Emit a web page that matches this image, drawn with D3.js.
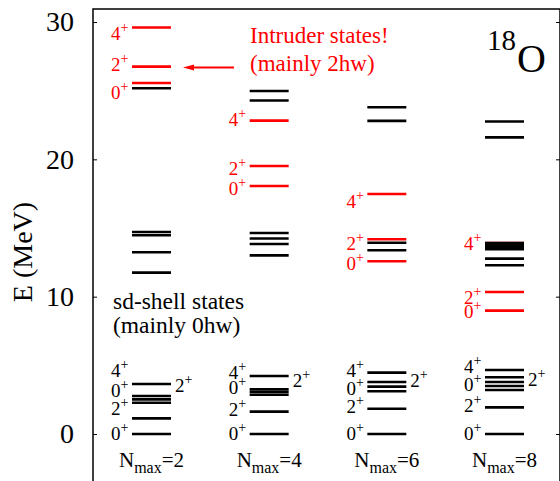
<!DOCTYPE html>
<html>
<head>
<meta charset="utf-8">
<script src="https://cdn.jsdelivr.net/npm/d3@7"></script>
<style>
  html, body { margin: 0; padding: 0; background: #fff; }
  svg { display: block; font-family: "Liberation Serif", "Times New Roman", Times, "DejaVu Serif", serif; }
  svg text { font-family: "Liberation Serif", "Times New Roman", Times, "DejaVu Serif", serif; }
</style>
</head>
<body>
<svg id="chart" width="560" height="481"></svg>
<script>
// ---------- data ----------
const nmaxValues = [2, 4, 6, 8];
const yTicks = [0, 10, 20, 30];

// black = sd-shell (mainly 0hw) states, red = intruder (mainly 2hw) states, energies in MeV
const blackLevels = [
  [0, 1.14, 2.28, 2.52, 2.77, 3.64, 11.75, 13.23, 14.47, 14.71, 25.18],
  [0, 1.63, 2.86, 3.06, 3.25, 4.22, 13.01, 13.84, 14.23, 14.64, 24.28, 24.98],
  [0, 1.84, 3.11, 3.45, 3.79, 4.47, 13.38, 13.93, 22.8, 23.79],
  [0, 1.94, 3.2, 3.5, 3.79, 4.13, 4.66, 12.29, 12.77, 13.45, 13.6, 13.75, 13.9, 21.6, 22.75]
];
const redLevels = [
  [25.56, 26.75, 29.6],
  [18.06, 19.52, 22.82],
  [12.58, 14.18, 17.48],
  [8.98, 10.34, 13.9]
];

// spin labels: [Nmax, J, energy of label centre, series, side]
const spinLabels = [
  [2, "4", 29.13, "red", "left"], [2, "2", 26.88, "red", "left"], [2, "0", 24.87, "red", "left"],
  [2, "4", 4.62, "black", "left"], [2, "0", 3.2, "black", "left"], [2, "2", 1.86, "black", "left"],
  [2, "0", 0.04, "black", "left"], [2, "2", 3.5, "black", "right"],
  [4, "4", 22.9, "red", "left"], [4, "2", 19.3, "red", "left"], [4, "0", 17.9, "red", "left"],
  [4, "4", 4.5, "black", "left"], [4, "0", 3.42, "black", "left"], [4, "2", 1.82, "black", "left"],
  [4, "0", 0.04, "black", "left"], [4, "2", 3.86, "black", "right"],
  [6, "4", 16.93, "red", "left"], [6, "2", 13.87, "red", "left"], [6, "0", 12.42, "red", "left"],
  [6, "4", 4.66, "black", "left"], [6, "0", 3.31, "black", "left"], [6, "2", 2.0, "black", "left"],
  [6, "0", 0.04, "black", "left"], [6, "2", 3.93, "black", "right"],
  [8, "4", 13.87, "red", "left"], [8, "2", 9.94, "red", "left"], [8, "0", 8.92, "red", "left"],
  [8, "4", 4.92, "black", "left"], [8, "0", 3.57, "black", "left"], [8, "2", 2.1, "black", "left"],
  [8, "0", 0.04, "black", "left"], [8, "2", 3.97, "black", "right"]
];

const annotations = {
  intruder: ["Intruder states!", "(mainly 2hw)"],
  sd: ["sd-shell states", "(mainly 0hw)"],
  yLabel: "E (MeV)",
  nucleusMass: "18",
  nucleusSymbol: "O"
};

// ---------- layout ----------
const RED = "#ff0000";
const FONT = '"Liberation Serif", "Times New Roman", Times, serif';
const svg = d3.select("#chart");
const frame = { left: 93, top: 9, right: 560, bottom: 495 };

const y = d3.scaleLinear().domain([0, 30]).range([434, 22]);
const x = d3.scaleLinear().domain([2, 8]).range([151.5, 504.5]);
const halfW = 19.5;

// frame
svg.append("path")
  .attr("d", `M${frame.left},${frame.bottom}V${frame.top}H${frame.right}V${frame.bottom}`)
  .attr("fill", "none").attr("stroke", "#000").attr("stroke-width", 1.5);

// left axis
const axL = svg.append("g").attr("transform", `translate(${frame.left},0)`)
  .call(d3.axisLeft(y).tickValues(yTicks).tickSize(-4).tickSizeOuter(0).tickPadding(19));
axL.attr("font-family", FONT);
axL.select(".domain").remove();
axL.selectAll(".tick line").attr("stroke", "#000").attr("stroke-width", 1);
axL.selectAll(".tick text").attr("font-family", FONT).attr("font-size", 28).attr("fill", "#000");

// right axis (ticks only)
const axR = svg.append("g").attr("transform", `translate(${frame.right},0)`)
  .call(d3.axisRight(y).tickValues(yTicks).tickSize(-4).tickSizeOuter(0).tickFormat(""));
axR.select(".domain").remove();
axR.selectAll(".tick line").attr("stroke", "#000").attr("stroke-width", 1);

// y label
svg.append("text")
  .attr("transform", `translate(32,${252}) rotate(-90)`)
  .attr("text-anchor", "middle").attr("font-size", 28).attr("fill", "#000")
  .text(annotations.yLabel);

// levels
function drawLevels(levels, color) {
  const rows = [];
  levels.forEach((arr, i) => arr.forEach(e => rows.push({ n: nmaxValues[i], e })));
  svg.append("g").selectAll("line").data(rows).join("line")
    .attr("x1", d => x(d.n) - halfW).attr("x2", d => x(d.n) + halfW)
    .attr("y1", d => y(d.e)).attr("y2", d => y(d.e))
    .attr("stroke", color).attr("stroke-width", 2.6);
}
drawLevels(redLevels, RED);
drawLevels(blackLevels, "#000");

// spin labels
const lab = svg.append("g");
spinLabels.forEach(([n, j, e, series, side]) => {
  const t = lab.append("text")
    .attr("fill", series === "red" ? RED : "#000")
    .attr("font-size", 19)
    .attr("y", y(e) + 6.5);
  if (side === "left") {
    t.attr("x", x(n) - halfW - 3.5).attr("text-anchor", "end");
  } else {
    t.attr("x", x(n) + halfW + 4).attr("text-anchor", "start");
  }
  t.append("tspan").text(j);
  t.append("tspan").attr("font-size", 14).attr("dy", -8).text("+");
});

// Nmax labels
nmaxValues.forEach(n => {
  const t = svg.append("text").attr("x", x(n)).attr("y", 467)
    .attr("text-anchor", "middle").attr("font-size", 21).attr("fill", "#000");
  t.append("tspan").text("N");
  t.append("tspan").attr("font-size", 16).attr("dy", 6).text("max");
  t.append("tspan").attr("dy", -6).text("=" + n);
});

// intruder annotation
svg.append("text").attr("x", 250).attr("y", 43).attr("font-size", 23).attr("fill", RED)
  .text(annotations.intruder[0]);
svg.append("text").attr("x", 250).attr("y", 71).attr("font-size", 23).attr("fill", RED)
  .text(annotations.intruder[1]);
svg.append("line").attr("x1", 234).attr("x2", 192).attr("y1", 67.5).attr("y2", 67.5)
  .attr("stroke", RED).attr("stroke-width", 2);
svg.append("path").attr("d", "M183,67.5 L194,64.5 L194,70.5 Z").attr("fill", RED);

// sd-shell annotation
svg.append("text").attr("x", 113).attr("y", 309).attr("font-size", 23.5).attr("fill", "#000")
  .text(annotations.sd[0]);
svg.append("text").attr("x", 113).attr("y", 333).attr("font-size", 23.5).attr("fill", "#000")
  .text(annotations.sd[1]);

// nucleus label
svg.append("text").attr("x", 487).attr("y", 50).attr("font-size", 29).attr("fill", "#000")
  .text(annotations.nucleusMass);
svg.append("text").attr("x", 517).attr("y", 72).attr("font-size", 40).attr("fill", "#000")
  .text(annotations.nucleusSymbol);
</script>
</body>
</html>
